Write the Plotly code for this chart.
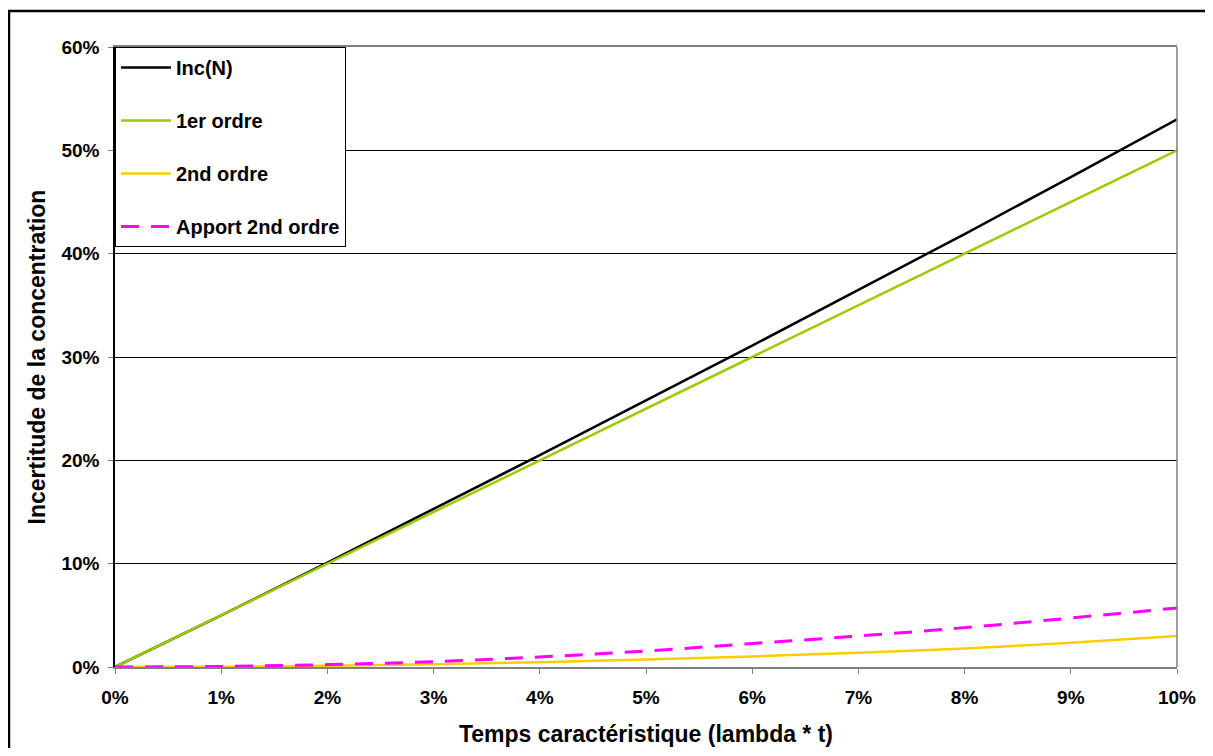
import plotly.graph_objects as go

x_vals = [0, 0.01, 0.02, 0.03, 0.04, 0.05, 0.06, 0.07, 0.08, 0.09, 0.10]
inc_n = [0, 0.050, 0.101, 0.153, 0.205, 0.258, 0.311, 0.365, 0.419, 0.474, 0.530]
ordre1 = [0, 0.05, 0.10, 0.15, 0.20, 0.25, 0.30, 0.35, 0.40, 0.45, 0.50]
ordre2 = [0, 0.0003, 0.0012, 0.0027, 0.0047, 0.0072, 0.0102, 0.0138, 0.0180, 0.0235, 0.0300]
apport2 = [0, 0.0006, 0.0023, 0.0052, 0.0097, 0.0155, 0.0227, 0.0300, 0.0381, 0.0474, 0.0571]

x_ticks = [0, 0.01, 0.02, 0.03, 0.04, 0.05, 0.06, 0.07, 0.08, 0.09, 0.10]
x_tick_labels = ["0%", "1%", "2%", "3%", "4%", "5%", "6%", "7%", "8%", "9%", "10%"]
y_ticks = [0, 0.1, 0.2, 0.3, 0.4, 0.5, 0.6]
y_tick_labels = ["0%", "10%", "20%", "30%", "40%", "50%", "60%"]

FONT = "Liberation Sans, Arial, sans-serif"

# figure is placed with an 8px page margin
L, T, R, B = 107, 39, 28, 81
W, H = 1197, 740
PW = W - L - R
PH = H - T - B

fig = go.Figure()
fig.add_trace(go.Scatter(x=x_vals, y=inc_n, mode="lines", name="<b>Inc(N)</b>",
                         line=dict(color="black", width=2.5), legendgroup="a"))
fig.add_trace(go.Scatter(x=x_vals, y=ordre1, mode="lines", name="<b>1er ordre</b>",
                         line=dict(color="#99CC00", width=2.5), legendgroup="b"))
fig.add_trace(go.Scatter(x=x_vals, y=ordre2, mode="lines", name="<b>2nd ordre</b>",
                         line=dict(color="#FFCC00", width=2.5, shape="spline"), legendgroup="c"))
fig.add_trace(go.Scatter(x=x_vals, y=apport2, mode="lines", name="<b>Apport 2nd ordre</b>",
                         line=dict(color="#FF00FF", width=3, dash="18px,12px", shape="spline"),
                         legendgroup="d"))

fig.update_layout(
    width=W, height=H,
    margin=dict(l=L, r=R, t=T, b=B, autoexpand=False),
    paper_bgcolor="white", plot_bgcolor="white",
    font=dict(family=FONT, color="black"),
    showlegend=True,
    legend=dict(x=0, y=1, xanchor="left", yanchor="top",
                bgcolor="white", bordercolor="black", borderwidth=1,
                font=dict(size=20, family=FONT, color="black"),
                tracegroupgap=24, traceorder="grouped", itemwidth=50),
    xaxis=dict(range=[0, 0.10], tickvals=x_ticks, ticktext=x_tick_labels,
               showgrid=False, zeroline=False, automargin=False,
               showline=True, linecolor="#808080", linewidth=1.5, mirror=True,
               ticks="outside", ticklen=5, tickcolor="#808080", ticklabelstandoff=7,
               tickfont=dict(size=19, family=FONT, color="black", weight="bold"),
               title=dict(text="<b>Temps caractéristique (lambda * t)</b>",
                          font=dict(size=23, family=FONT, color="black"), standoff=19)),
    yaxis=dict(range=[0, 0.6], tickvals=y_ticks, ticktext=y_tick_labels,
               showgrid=True, gridcolor="black", gridwidth=1, zeroline=False, automargin=False,
               showline=True, linecolor="black", linewidth=1.5,
               ticks="outside", ticklen=5, tickcolor="#808080", ticklabelstandoff=5,
               tickfont=dict(size=19, family=FONT, color="black", weight="bold"),
               title=dict(text="<b>Incertitude de la concentration</b>",
                          font=dict(size=23, family=FONT, color="black"), standoff=9)),
)

# right border of plot area (gray)
fig.add_shape(type="line", xref="paper", yref="paper", x0=1, x1=1, y0=0, y1=1,
              line=dict(color="#808080", width=1.5))
# outer chart border
fig.add_shape(type="rect", xref="paper", yref="paper",
              x0=(1 - L) / PW, x1=(W + 20 - L) / PW,
              y0=-(B + 20) / PH, y1=(PH + T - 3) / PH,
              line=dict(color="black", width=2.5), fillcolor="rgba(0,0,0,0)")

fig.write_html("out.html")
